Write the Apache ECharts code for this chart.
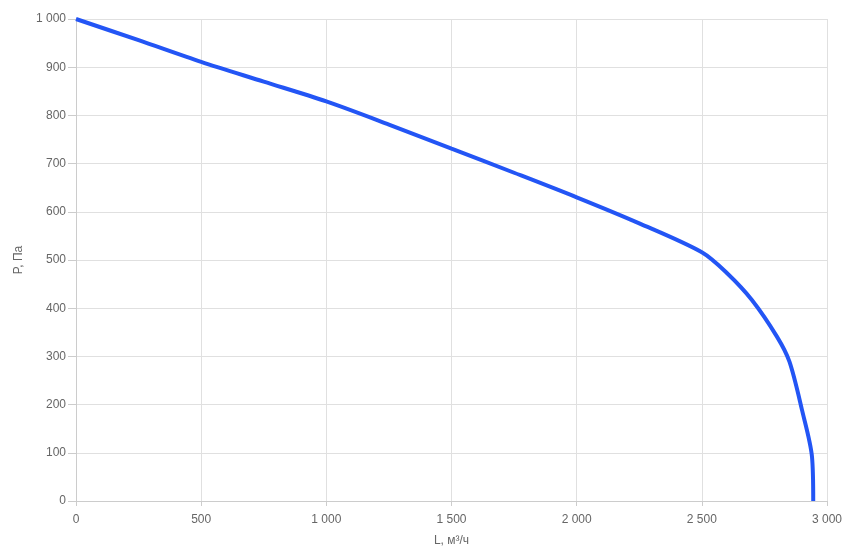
<!DOCTYPE html>
<html><head><meta charset="utf-8">
<script src="https://cdn.jsdelivr.net/npm/echarts@6/dist/echarts.min.js"></script>
<style>html,body{margin:0;padding:0;background:#fff}#c{width:862px;height:552px}</style>
</head><body><div id="c"></div>
<script>
const flowL = [0, 250, 500, 750, 1000, 1250, 1500, 1750, 2000, 2250, 2500, 2600, 2700, 2800, 2850, 2900, 2940, 2945];
const pressureP = [1000, 956, 911, 870, 829, 781, 731, 681, 630, 576, 516, 473, 417, 341, 289, 189, 92, 0];
const xName = 'L, м³/ч';
const yName = 'P, Па';

function fmt(v){ return String(v).replace(/\B(?=(\d{3})+(?!\d))/g, ' '); }
const FONT = 'Arial, "Liberation Sans", sans-serif';

const chart = echarts.init(document.getElementById('c'), null, {renderer:'canvas'});
chart.setOption({
  animation:false,
  grid:{left:76, right:35, top:19, bottom:51},
  xAxis:{
    type:'value', min:0, max:3000, interval:500,
    name:xName, nameLocation:'middle', nameGap:34,
    nameTextStyle:{color:'#666', fontSize:12, fontFamily:FONT},
    axisLine:{show:true, lineStyle:{color:'#ccc'}},
    axisTick:{show:true, length:5, lineStyle:{color:'#ccc'}},
    axisLabel:{color:'#666', fontSize:12, margin:13, formatter:fmt, fontFamily:FONT},
    splitLine:{show:true, lineStyle:{color:'#e0e0e0'}}
  },
  yAxis:{
    type:'value', min:0, max:1000, interval:100,
    name:yName, nameLocation:'middle', nameGap:48, nameRotate:90,
    nameTextStyle:{color:'#666', fontSize:12, fontFamily:FONT},
    axisLine:{show:true, lineStyle:{color:'#ccc'}},
    axisTick:{show:true, length:8, lineStyle:{color:'#ccc'}},
    axisLabel:{color:'#666', fontSize:12, margin:10, formatter:fmt, fontFamily:FONT},
    splitLine:{show:true, lineStyle:{color:'#e0e0e0'}}
  },
  series:[{
    type:'line',
    data: flowL.map((x,i)=>[x, pressureP[i]]),
    smooth:0.3,
    showSymbol:false,
    lineStyle:{color:'#2355f5', width:4},
    itemStyle:{color:'#2355f5'}
  }]
});
</script></body></html>
